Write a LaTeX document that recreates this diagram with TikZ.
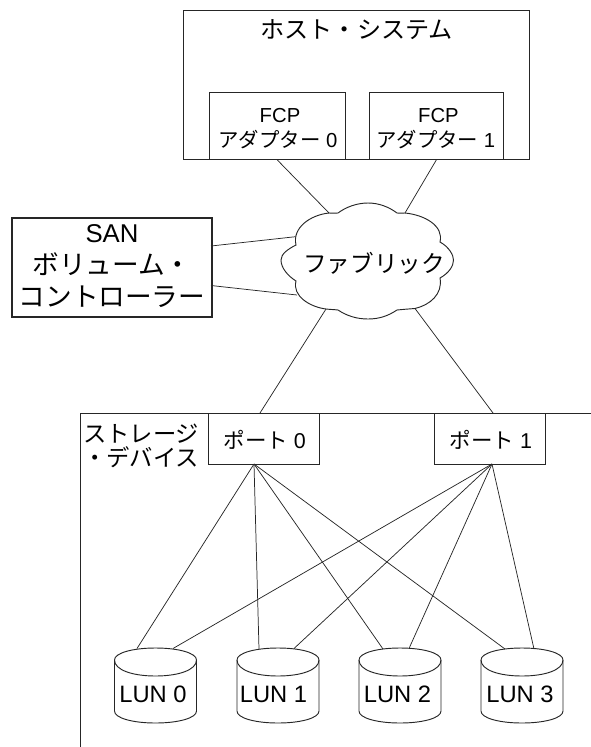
\documentclass[tikz,border=0pt]{standalone}
\usepackage{fontspec}
\setmainfont{Liberation Sans}
\newfontfamily\jpf{Noto Sans CJK JP}
\usetikzlibrary{calc}
\tikzset{
  boxthin/.style={draw=black!85,line width=0.75pt,fill=white,inner sep=0pt},
  boxthick/.style={draw=black!85,line width=1.4pt,fill=white,inner sep=0pt},
  wire/.style={draw=black!85,line width=0.55pt},
  outline/.style={draw=black!85,line width=0.7pt,fill=white},
  lbl/.style={text=black,inner sep=0pt},
  lunlabel/.style={lbl,font=\fontsize{17.8}{20}\selectfont},
  fcplabel/.style={lbl,font=\fontsize{15.2}{18}\selectfont},
  portlabel/.style={lbl,font=\fontsize{16.1}{18}\selectfont},
}
\newcommand{\lun}[4]{% left x, name, text, text centre
  \path[outline] (#1,660) .. controls (#1,653) and (#1+18,648) .. (#1+41,648)
     .. controls (#1+64,648) and (#1+82,653) .. (#1+82,660) -- (#1+82,711)
     .. controls (#1+82,718) and (#1+64,723) .. (#1+41,723)
     .. controls (#1+18,723) and (#1,718) .. (#1,711) -- cycle;
  \draw[outline,fill=none] (#1,660) .. controls (#1,670) and (#1+18,676) .. (#1+41,676)
     .. controls (#1+64,676) and (#1+82,670) .. (#1+82,660);
  \node[lunlabel] (#2) at (#4,694) {#3};
}
\begin{document}
\begin{tikzpicture}[x=0.75pt,y=-0.75pt]
\useasboundingbox (0,0) rectangle (591,747);
% storage frame
\coordinate (stA) at (591,413.5);
\coordinate (stB) at (80,413.5);
\coordinate (stC) at (80,747);
\draw[outline,fill=none] (stA) -- (stB) -- (stC);
% host
\node[boxthin,minimum width=346*0.75pt,minimum height=149.5*0.75pt,anchor=north west] (host) at (183,9.5) {};
\node[lbl,font=\jpf\fontsize{18.1}{20}\selectfont] (hosttitle) at (356.7,30) {ホスト・システム};
\node[boxthin,minimum width=136.3*0.75pt,minimum height=67*0.75pt,anchor=north west] (fcp0) at (208.7,92) {};
\node[fcplabel] (fcp0a) at (280,115.5) {FCP};
\node[fcplabel] (fcp0b) at (278,139.5) {{\jpf\fontsize{15.3}{18}\selectfont アダプター} 0};
\node[boxthin,minimum width=134.4*0.75pt,minimum height=67*0.75pt,anchor=north west] (fcp1) at (368.6,92) {};
\node[fcplabel] (fcp1a) at (438.4,115.5) {FCP};
\node[fcplabel] (fcp1b) at (435.8,139.5) {{\jpf\fontsize{15.3}{18}\selectfont アダプター} 1};
% SAN
\node[boxthick,minimum width=200*0.75pt,minimum height=99*0.75pt,anchor=north west] (san) at (10.7,217.2) {};
\node[lbl,font=\fontsize{19.3}{24}\selectfont,align=center] (santext) at (112,266) {SAN\\{\jpf\fontsize{20}{24}\selectfont ボリューム・}\\{\jpf\fontsize{20}{24}\selectfont コントローラー}};
% cloud
\coordinate (cNW) at (329,213);
\coordinate (cNE) at (405,213);
\coordinate (cWu) at (295.5,236.7);
\coordinate (cWl) at (297,295);
\coordinate (cSW) at (326,309);
\coordinate (cSE) at (415,308.5);
\path[outline] (cNW)
  .. controls (332,213) and (335,213.5) .. (338,213)
  .. controls (346,207) and (357,203) .. (368,203)
  .. controls (379,203) and (389,207) .. (397,213)
  .. controls (400,213.5) and (402,213) .. (cNE)
  .. controls (425,215) and (444,226) .. (440,242)
  .. controls (449,247) and (453.5,255) .. (453.5,260)
  .. controls (453.5,266) and (449,273) .. (440,278)
  .. controls (443,294) and (430,305) .. (cSE)
  .. controls (408,309) and (402,309.5) .. (397,310)
  .. controls (388,316) and (379,319) .. (368,319)
  .. controls (357,319) and (347,316) .. (338,310)
  .. controls (334,309.5) and (330,309.5) .. (cSW)
  .. controls (310,307) and (292,296) .. (296,281)
  .. controls (288,276) and (281,268) .. (281,260)
  .. controls (281,254) and (288,249) .. (296,245)
  .. controls (292,228) and (310,215) .. (cNW) -- cycle;
\node[lbl,font=\jpf\fontsize{17.7}{20}\selectfont] (fabric) at (374,263) {ファブリック};
% ports
\node[boxthin,minimum width=111*0.75pt,minimum height=51*0.75pt,anchor=north west] (port0) at (208,413) {};
\node[portlabel] (port0t) at (264.7,439.5) {{\jpf ポート} 0};
\node[boxthin,minimum width=111*0.75pt,minimum height=51*0.75pt,anchor=north west] (port1) at (434,413) {};
\node[portlabel] (port1t) at (491,439.5) {{\jpf ポート} 1};
\node[lbl,font=\jpf\fontsize{17.5}{17.6}\selectfont,align=right,anchor=east] (stlabel) at (199.5,446) {ストレージ\\・デバイス};
% LUNs
\lun{114.5}{lun0}{LUN 0}{153}
\lun{237}{lun1}{LUN 1}{273.5}
\lun{359}{lun2}{LUN 2}{397.5}
\lun{481}{lun3}{LUN 3}{520}
% connector anchors
\coordinate (sanU) at (211,246);
\coordinate (sanL) at (211,285.5);
\coordinate (p0t) at (260,413);
\coordinate (p1t) at (493,413);
\coordinate (p0b) at (254,464);
\coordinate (p1b) at (492,464);
\coordinate (l0a) at (137,648.5);
\coordinate (l0b) at (173,648.5);
\coordinate (l1a) at (259,649);
\coordinate (l1b) at (294,648.5);
\coordinate (l2a) at (383,649);
\coordinate (l2b) at (409,648.5);
\coordinate (l3a) at (505,649);
\coordinate (l3b) at (534,649);
% connectors
\draw[wire] (fcp0.south) -- (cNW);
\draw[wire] (fcp1.south) -- (cNE);
\draw[wire] (sanU) -- (cWu);
\draw[wire] (sanL) -- (cWl);
\draw[wire] (cSW) -- (p0t);
\draw[wire] (cSE) -- (p1t);
\draw[wire] (p0b) -- (l0a);
\draw[wire] (p0b) -- (l1a);
\draw[wire] (p0b) -- (l2a);
\draw[wire] (p0b) -- (l3a);
\draw[wire] (p1b) -- (l0b);
\draw[wire] (p1b) -- (l1b);
\draw[wire] (p1b) -- (l2b);
\draw[wire] (p1b) -- (l3b);
\end{tikzpicture}
\end{document}
